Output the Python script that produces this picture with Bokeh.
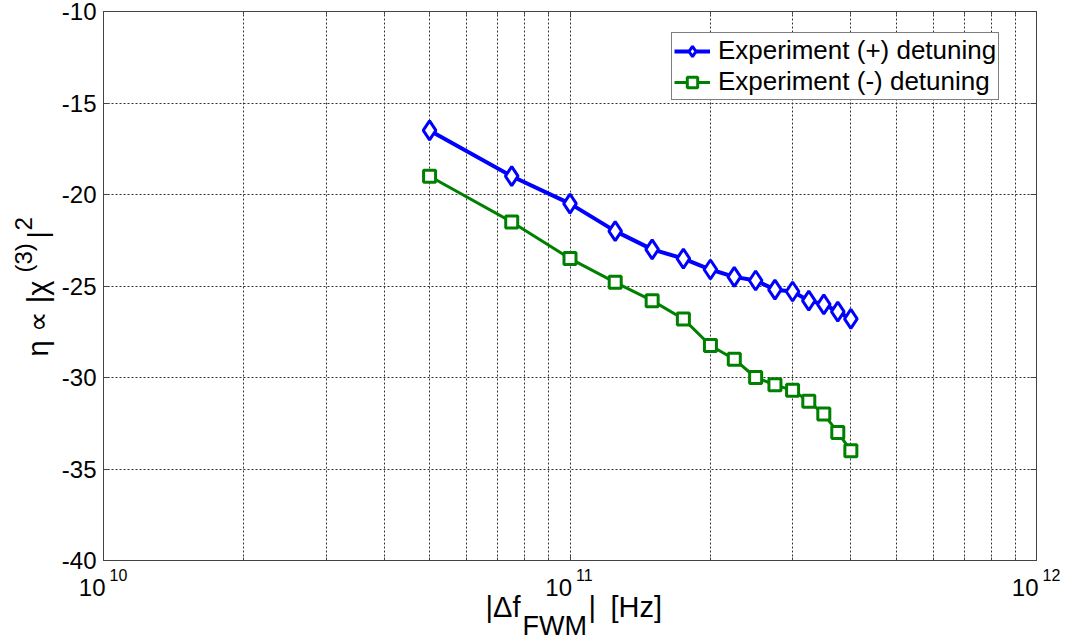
import math
from bokeh.plotting import figure
from bokeh.models import (Label, Legend, LegendItem, FixedTicker, Range1d,
                          LinearAxis, LogAxis)
from bokeh.embed import file_html
from bokeh.resources import INLINE

# ---- data ----
freq_hz = [5e10, 7.5e10, 1e11, 1.25e11, 1.5e11, 1.75e11, 2e11, 2.25e11,
           2.5e11, 2.75e11, 3e11, 3.25e11, 3.5e11, 3.75e11, 4e11]
eta_plus = [-16.5, -19.0, -20.5, -22.0, -23.0, -23.5, -24.1, -24.5,
            -24.7, -25.2, -25.3, -25.8, -26.0, -26.4, -26.8]
eta_minus = [-19.0, -21.5, -23.5, -24.8, -25.8, -26.8, -28.25, -29.0,
             -30.0, -30.4, -30.7, -31.3, -32.0, -33.0, -34.0]
series_names = ["Experiment (+) detuning", "Experiment (-) detuning"]
x_major = [1e10, 1e11, 1e12]
x_exponents = ["10", "11", "12"]
x_minor = [m * 10 ** e for e in (10, 11) for m in range(2, 10)]
y_ticks = [-40, -35, -30, -25, -20, -15, -10]

X_LO, X_HI = 1e10, 1e12
Y_LO, Y_HI = -40, -10

FONT = "Liberation Sans"
W, H = 1067, 639
# pixel box of the axes inside the canvas
BOX_L, BOX_R, BOX_T, BOX_B = 103, 1036, 11, 560
dec_px = (BOX_R - BOX_L) / math.log10(X_HI / X_LO)
unit_px = (BOX_B - BOX_T) / (Y_HI - Y_LO)
x_range = Range1d(10 ** (math.log10(X_LO) - BOX_L / dec_px),
                  10 ** (math.log10(X_HI) + (W - BOX_R) / dec_px))
y_range = Range1d(Y_LO - (H - BOX_B) / unit_px, Y_HI + BOX_T / unit_px)

p = figure(width=W, height=H, x_axis_type="log", x_range=x_range, y_range=y_range,
           output_backend="svg", toolbar_location=None,
           min_border=0, min_border_left=0, min_border_right=0,
           min_border_top=0, min_border_bottom=0)
p.background_fill_color = "white"
p.border_fill_color = "white"
p.outline_line_color = None

AX_COLOR = "#444444"

def style_axis(ax, show_labels=False):
    ax.axis_line_color = AX_COLOR
    ax.major_tick_line_color = AX_COLOR
    ax.minor_tick_line_color = AX_COLOR
    ax.major_tick_in = 6
    ax.major_tick_out = 0
    ax.minor_tick_in = 3
    ax.minor_tick_out = 0
    if not show_labels:
        ax.major_label_text_color = None
        ax.major_label_text_font_size = "1px"

# bottom / left axes fixed onto the box edges
xax = p.xaxis[0]
yax = p.yaxis[0]
xax.ticker = FixedTicker(ticks=x_major, minor_ticks=x_minor)
yax.ticker = FixedTicker(ticks=y_ticks)
xax.fixed_location = Y_LO
yax.fixed_location = X_LO
xax.bounds = (X_LO, X_HI)
yax.bounds = (Y_LO, Y_HI)
style_axis(xax)
style_axis(yax, show_labels=True)
yax.minor_tick_line_color = None
yax.major_label_overrides = {v: str(v) for v in y_ticks}
yax.major_label_text_font = FONT
yax.major_label_text_font_size = "24px"
yax.major_label_text_color = "black"
yax.major_label_standoff = 7

# top / right axes close the box (MATLAB style)
top = LogAxis(ticker=FixedTicker(ticks=x_major, minor_ticks=x_minor),
              fixed_location=Y_HI, bounds=(X_LO, X_HI))
right = LinearAxis(ticker=FixedTicker(ticks=y_ticks),
                   fixed_location=X_HI, bounds=(Y_LO, Y_HI))
style_axis(top)
style_axis(right)
right.minor_tick_line_color = None
p.add_layout(top, "above")
p.add_layout(right, "right")

# grid (dotted), limited to the box
gx, gy = p.xgrid[0], p.ygrid[0]
GRID_COLOR = "#333333"
if "cross_bounds" in gx.properties():
    gx.bounds = (X_LO, X_HI)
    gx.cross_bounds = (Y_LO, Y_HI)
    gy.bounds = (Y_LO, Y_HI)
    gy.cross_bounds = (X_LO, X_HI)
    for g in (gx, gy):
        g.grid_line_color = GRID_COLOR
        g.grid_line_dash = "2 2"
        g.grid_line_width = 1
    gx.minor_grid_line_color = GRID_COLOR
    gx.minor_grid_line_dash = "2 2"
    gx.minor_grid_line_width = 1
else:
    gx.visible = False
    gy.visible = False
    vx = x_major[1:-1] + x_minor
    p.segment(x0=vx, y0=[Y_LO] * len(vx), x1=vx, y1=[Y_HI] * len(vx),
              line_color=GRID_COLOR, line_dash="2 2", line_width=1)
    hy = y_ticks[1:-1]
    p.segment(x0=[X_LO] * len(hy), y0=hy, x1=[X_HI] * len(hy), y1=hy,
              line_color=GRID_COLOR, line_dash="2 2", line_width=1)

# series
bl = p.line(freq_hz, eta_plus, line_color="#0000FF", line_width=4)
bs = p.scatter(freq_hz, eta_plus, marker="diamond", size=19,
               line_color="#0000FF", line_width=3, fill_color="white")
gl = p.line(freq_hz, eta_minus, line_color="#008000", line_width=3)
gs = p.scatter(freq_hz, eta_minus, marker="square", size=12,
               line_color="#008000", line_width=3, fill_color="white")

legend = Legend(items=[LegendItem(label=series_names[0], renderers=[bl, bs]),
                       LegendItem(label=series_names[1], renderers=[gl, gs])],
                location=(671, H - 100), orientation="vertical",
                label_text_font=FONT, label_text_font_size="26px",
                label_text_color="black",
                glyph_width=36, glyph_height=26, label_height=26,
                label_standoff=8, padding=2, spacing=0, margin=0,
                border_line_color="black", border_line_width=1,
                background_fill_color="white", background_fill_alpha=1)
p.add_layout(legend, "center")

# x tick labels 10^n
for xv, ex in zip(x_major, x_exponents):
    p.add_layout(Label(x=xv, y=Y_LO, text="10", x_offset=2, y_offset=-27,
                       text_align="right", text_baseline="alphabetic",
                       text_font=FONT, text_font_size="24px", text_color="black"))
    p.add_layout(Label(x=xv, y=Y_LO, text=ex, x_offset=6, y_offset=-14,
                       text_align="left", text_baseline="alphabetic",
                       text_font=FONT, text_font_size="16px", text_color="black"))


def note(dx, dy, text, size, angle=0.0):
    p.add_layout(Label(x=X_LO, y=Y_LO, x_offset=dx, y_offset=dy, text=text,
                       angle=angle, text_align="left", text_baseline="alphabetic",
                       text_font=FONT, text_font_size=size, text_color="black"))


# x axis label: |Δf_FWM| [Hz]
note(382, -46, "|\u0394f", "29px")
note(419, -65, "FWM", "27px")
note(485, -46, "|", "29px")
note(507, -46, "[Hz]", "29px")

# y axis label: η ∝ |χ^(3)|^2 (rotated)
A = math.pi / 2
note(-66, 204, "\u03b7 \u221d |\u03c7", "29px", A)
note(-80, 288, "(3)", "24px", A)
note(-66, 322, "|", "28px", A)
note(-80, 330, "2", "24px", A)

open("out.html", "w").write(file_html(p, INLINE))
